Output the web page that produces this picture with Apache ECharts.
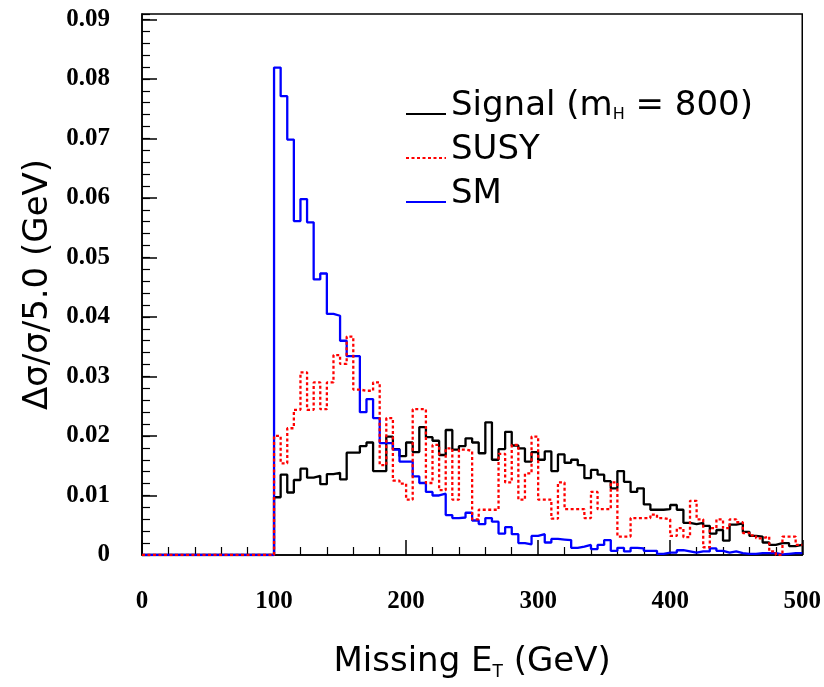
<!DOCTYPE html>
<html>
<head>
<meta charset="utf-8">
<script src="https://cdn.jsdelivr.net/npm/echarts@6/dist/echarts.min.js"></script>
<style>
html, body { margin: 0; padding: 0; background: #fff; }
#chart { width: 824px; height: 687px; }
</style>
</head>
<body>
<div id="chart"></div>
<script>
// missing E_T histograms, 5 GeV bins, first filled bin starts at 100 GeV
const binWidth = 5;
const firstEdge = 100;

const signalVals = [
    0.0097, 0.0135, 0.0105, 0.0126, 0.0145, 0.0130, 0.0133, 0.0119, 0.0136, 0.0138,
    0.0127, 0.0172, 0.0172, 0.0183, 0.0189, 0.0141, 0.0141, 0.0199, 0.0178, 0.0166,
    0.0189, 0.0173, 0.0215, 0.0198, 0.0192, 0.0168, 0.0210, 0.0177, 0.0183, 0.0196,
    0.0189, 0.0171, 0.0223, 0.0160, 0.0178, 0.0207, 0.0184, 0.0179, 0.0157, 0.0173,
    0.0160, 0.0174, 0.0141, 0.0169, 0.0155, 0.0160, 0.0151, 0.0129, 0.0143, 0.0135,
    0.0124, 0.0112, 0.0141, 0.0123, 0.0106, 0.0112, 0.0085, 0.0076, 0.0076, 0.0077,
    0.0084, 0.0076, 0.0054, 0.0052, 0.0054, 0.0049, 0.0036, 0.0042, 0.0024, 0.0051,
    0.0053, 0.0039, 0.0032, 0.0031, 0.0021, 0.0017, 0.0020, 0.0020, 0.0015, 0.0017
];

const susyVals = [
    0.0200, 0.0154, 0.0213, 0.0244, 0.0307, 0.0244, 0.0290, 0.0245, 0.0290, 0.0336,
    0.0321, 0.0367, 0.0278, 0.0276, 0.0276, 0.0290, 0.0151, 0.0230, 0.0125, 0.0120,
    0.0093, 0.0245, 0.0245, 0.0121, 0.0185, 0.0109, 0.0179, 0.0093, 0.0177, 0.0175,
    0.0060, 0.0076, 0.0076, 0.0076, 0.0170, 0.0122, 0.0185, 0.0093, 0.0137, 0.0199,
    0.0093, 0.0093, 0.0061, 0.0122, 0.0077, 0.0077, 0.0077, 0.0062, 0.0106, 0.0077,
    0.0077, 0.0122, 0.0031, 0.0031, 0.0062, 0.0062, 0.0062, 0.0068, 0.0062, 0.0060,
    0.0032, 0.0045, 0.0030, 0.0091, 0.0060, 0.0013, 0.0045, 0.0060, 0.0045, 0.0060,
    0.0055, 0.0037, 0.0033, 0.0028, 0.0031, 0.0006, 0.0000, 0.0031, 0.0031, 0.0017
];

const smVals = [
    0.0819, 0.0771, 0.0698, 0.0561, 0.0598, 0.0559, 0.0463, 0.0473, 0.0405, 0.0402,
    0.0360, 0.0334, 0.0334, 0.0240, 0.0262, 0.0230, 0.0188, 0.0188, 0.0177, 0.0157,
    0.0157, 0.0132, 0.0121, 0.0106, 0.0100, 0.0103, 0.0067, 0.0062, 0.0063, 0.0071,
    0.0058, 0.0052, 0.0062, 0.0056, 0.0036, 0.0047, 0.0035, 0.0020, 0.0018, 0.0032,
    0.0035, 0.0021, 0.0027, 0.0026, 0.0025, 0.0012, 0.0014, 0.0017, 0.0010, 0.0017,
    0.0025, 0.0007, 0.0012, 0.0006, 0.0012, 0.0011, 0.0007, 0.0007, 0.0002, 0.0004,
    0.0004, 0.0008, 0.0006, 0.0004, 0.0006, 0.0006, 0.0011, 0.0007, 0.0004, 0.0006,
    0.0003, 0.0002, 0.0002, 0.0003, 0.0003, 0.0003, 0.0001, 0.0002, 0.0003, 0.0003
];

const xMin = 0, xMax = 500, xStep = 100;
const yMin = 0, yMax = 0.0909, yStep = 0.01;

// bin edges -> step points (flat at zero below the cut)
function toSteps(vals) {
    var pts = [[xMin, 0]];
    vals.forEach(function (v, i) {
        pts.push([firstEdge + i * binWidth, v]);
    });
    pts.push([firstEdge + vals.length * binWidth, vals[vals.length - 1]]);
    return pts;
}

var chart = echarts.init(document.getElementById('chart'));

var sansFont = 'DejaVu Sans';
var serifFont = 'Liberation Serif';

function histSeries(name, vals, color, type) {
    return {
        name: name,
        type: 'line',
        step: 'end',
        data: toSteps(vals),
        showSymbol: false,
        symbol: 'none',
        lineStyle: { color: color, width: 2.3, type: type },
        itemStyle: { color: color },
        animation: false
    };
}

var option = {
    backgroundColor: '#fff',
    grid: {
        left: 142, top: 14, width: 661, height: 541,
        show: true, borderColor: '#000', borderWidth: 1.5
    },
    legend: {
        data: ['Signal', 'SUSY', 'SM'],
        orient: 'vertical',
        left: 405,
        top: 89,
        padding: 0,
        itemWidth: 40,
        itemHeight: 14,
        itemGap: 10,
        itemStyle: { opacity: 0 },
        formatter: function (name) {
            return name === 'Signal' ? 'Signal (m{sub|H} = 800)' : name;
        },
        textStyle: {
            fontFamily: sansFont,
            fontSize: 34,
            color: '#000',
            padding: [0, 0, 16, 0],
            rich: {
                sub: { fontFamily: sansFont, fontSize: 16, verticalAlign: 'bottom', padding: [16, 0, 0, 0] }
            }
        }
    },
    xAxis: {
        type: 'value',
        min: xMin, max: xMax, interval: xStep,
        name: 'Missing E{sub|T} (GeV)',
        nameLocation: 'middle',
        nameGap: 89,
        nameTextStyle: {
            fontFamily: sansFont, fontSize: 34, color: '#000',
            rich: { sub: { fontFamily: sansFont, fontSize: 17, padding: [20, 0, 0, 0] } }
        },
        axisLine: { lineStyle: { color: '#000', width: 1.5 } },
        axisTick: { inside: true, length: 15, lineStyle: { color: '#000', width: 1.5 } },
        minorTick: { show: true, splitNumber: 5, length: 8, lineStyle: { color: '#000', width: 1.2 } },
        axisLabel: {
            margin: 34,
            fontFamily: serifFont, fontWeight: 'bold', fontSize: 25, color: '#000'
        },
        splitLine: { show: false }
    },
    yAxis: [{
        type: 'value',
        min: yMin, max: yMax, interval: yStep,
        name: 'Δσ/σ/5.0 (GeV)',
        nameLocation: 'middle',
        nameGap: 83,
        nameTextStyle: { fontFamily: sansFont, fontSize: 34, color: '#000' },
        axisLine: { lineStyle: { color: '#000', width: 1.5 } },
        axisTick: { inside: true, length: 15, lineStyle: { color: '#000', width: 1.5 } },
        axisLabel: {
            margin: 32,
            showMaxLabel: false,
            fontFamily: serifFont, fontWeight: 'bold', fontSize: 25, color: '#000',
            formatter: function (v) {
                var k = Math.round(v / yStep);
                if (Math.abs(v - k * yStep) > 1e-9) return '';
                return k === 0 ? '0' : v.toFixed(2);
            }
        },
        splitLine: { show: false }
    }, {
        // minor ticks only
        type: 'value',
        position: 'left',
        min: yMin, max: yMax, interval: yStep / 5,
        axisLine: { show: false },
        axisTick: { inside: true, length: 8, lineStyle: { color: '#000', width: 1.2 } },
        axisLabel: { show: false },
        splitLine: { show: false }
    }],
    series: [
        histSeries('Signal', signalVals, '#000000', 'solid'),
        histSeries('SM', smVals, '#0000ff', 'solid'),
        histSeries('SUSY', susyVals, '#ff0000', [3, 2.5])
    ]
};

chart.setOption(option);
</script>
</body>
</html>
